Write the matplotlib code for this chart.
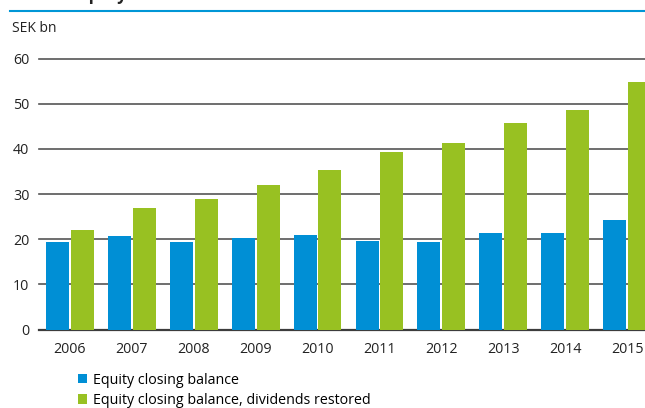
import numpy as np
import matplotlib.pyplot as plt
from matplotlib.lines import Line2D

plt.rcParams['font.family'] = ['Open Sans', 'DejaVu Sans']

years = ['2006', '2007', '2008', '2009', '2010', '2011', '2012', '2013', '2014', '2015']
equity = [19.4, 20.7, 19.4, 20.3, 21.0, 19.6, 19.4, 21.4, 21.4, 24.3]
equity_div = [22.1, 27.0, 29.0, 32.1, 35.4, 39.2, 41.4, 45.8, 48.7, 54.7]
yticks = [0, 10, 20, 30, 40, 50, 60]

blue = '#008fd5'
green = '#98c122'

W, H = 645, 408
fig = plt.figure(figsize=(W / 100, H / 100), dpi=100)
ax = fig.add_axes([39 / W, 1 - 329.5 / H, 1 - 39 / W, (329.5 - 58.5) / H])

x = np.arange(len(years))
bw = 0.372
b1 = ax.bar(x - 0.2, equity, bw, color=blue, zorder=3, label='Equity closing balance')
b2 = ax.bar(x + 0.2, equity_div, bw, color=green, zorder=3,
            label='Equity closing balance, dividends restored')

ax.set_xlim(-0.5, 9.29)
ax.set_ylim(0, 60)
ax.set_yticks(yticks)
ax.set_xticks(x)
ax.set_xticklabels(years)
for v in yticks:
    ax.axhline(v, color='#3c3c3c' if v == 0 else '#555555', lw=1.6 if v == 0 else 1.2,
               zorder=2, clip_on=False)
for s in ax.spines.values():
    s.set_visible(False)
ax.tick_params(length=0, labelsize=10.3, colors='#222222')
ax.tick_params(axis='x', pad=9)
ax.tick_params(axis='y', pad=7)
ax.patch.set_alpha(0)

fig.text(12 / W, 1 - 28 / H, 'SEK bn', fontsize=10, color='#222222', va='center')

# header rule and the cut-off title above it
fig.add_artist(Line2D([10 / W, 1], [1 - 10.5 / H, 1 - 10.5 / H], color='#0096d6', lw=1.5))
fig.text(75 / W, 1 + 0.5 / H, 'Equity', fontsize=12, fontweight='bold', color='#222222',
         va='baseline')

fig.legend(handles=[b1, b2], loc='upper left', bbox_to_anchor=(78 / W, 1 - 373 / H),
           frameon=False, fontsize=10.3, handlelength=0.6, handleheight=0.6,
           handletextpad=0.45, labelspacing=0.35, borderaxespad=0, borderpad=0)

fig.savefig('out.png', dpi=100)
